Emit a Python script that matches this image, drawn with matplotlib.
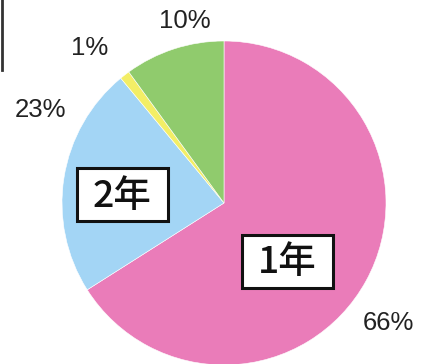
import matplotlib
matplotlib.use("Agg")
import matplotlib.pyplot as plt
from matplotlib.patches import Rectangle

# data
categories = ["1年", "2年", "その他", "未回答"]
shares = [66, 23, 1, 10]
pct_labels = ["66%", "23%", "1%", "10%"]
colors = ["#ea7cb9", "#a3d5f5", "#f3ee66", "#90cb6d"]

W, H = 432, 364
fig = plt.figure(figsize=(W / 100, H / 100), dpi=100)
ax = fig.add_axes([0, 0, 1, 1])

cx, cy, r = 224, 203, 162
ax.pie(shares, colors=colors, startangle=90, counterclock=False,
       center=(cx, H - cy), radius=r, frame=True,
       wedgeprops=dict(edgecolor="white", linewidth=0.4))
ax.set_xlim(0, W)
ax.set_ylim(0, H)
ax.set_aspect("equal")
ax.axis("off")

# percent labels (pixel positions from the top-left)
pct_pos = [(388, 323), (41, 110), (90, 48), (185, 21)]
for txt, (x, y) in zip(pct_labels, pct_pos):
    ax.text(x, H - y, txt, ha="center", va="center", fontsize=18.5,
            family=["Liberation Sans", "DejaVu Sans"], color="#222222")

# boxed category labels for the two big slices
box_pos = {"1年": (287.5, 261), "2年": (122.5, 194.5)}
bw, bh = 91, 53
for name, (x, y) in box_pos.items():
    ax.add_patch(Rectangle((x - bw / 2, H - y - bh / 2), bw, bh,
                           facecolor="white", edgecolor="#111111", linewidth=2.2, zorder=3))
    ax.text(x, H - y - 1, name, ha="center", va="center", fontsize=27,
            family=["Noto Sans CJK JP", "DejaVu Sans"], fontweight="medium",
            color="#111111", zorder=4)

# frame fragment at upper left of the scan
ax.plot([1.5, 1.5], [H, H - 70], color="#333333", linewidth=2)

fig.savefig("out.png", dpi=100)
